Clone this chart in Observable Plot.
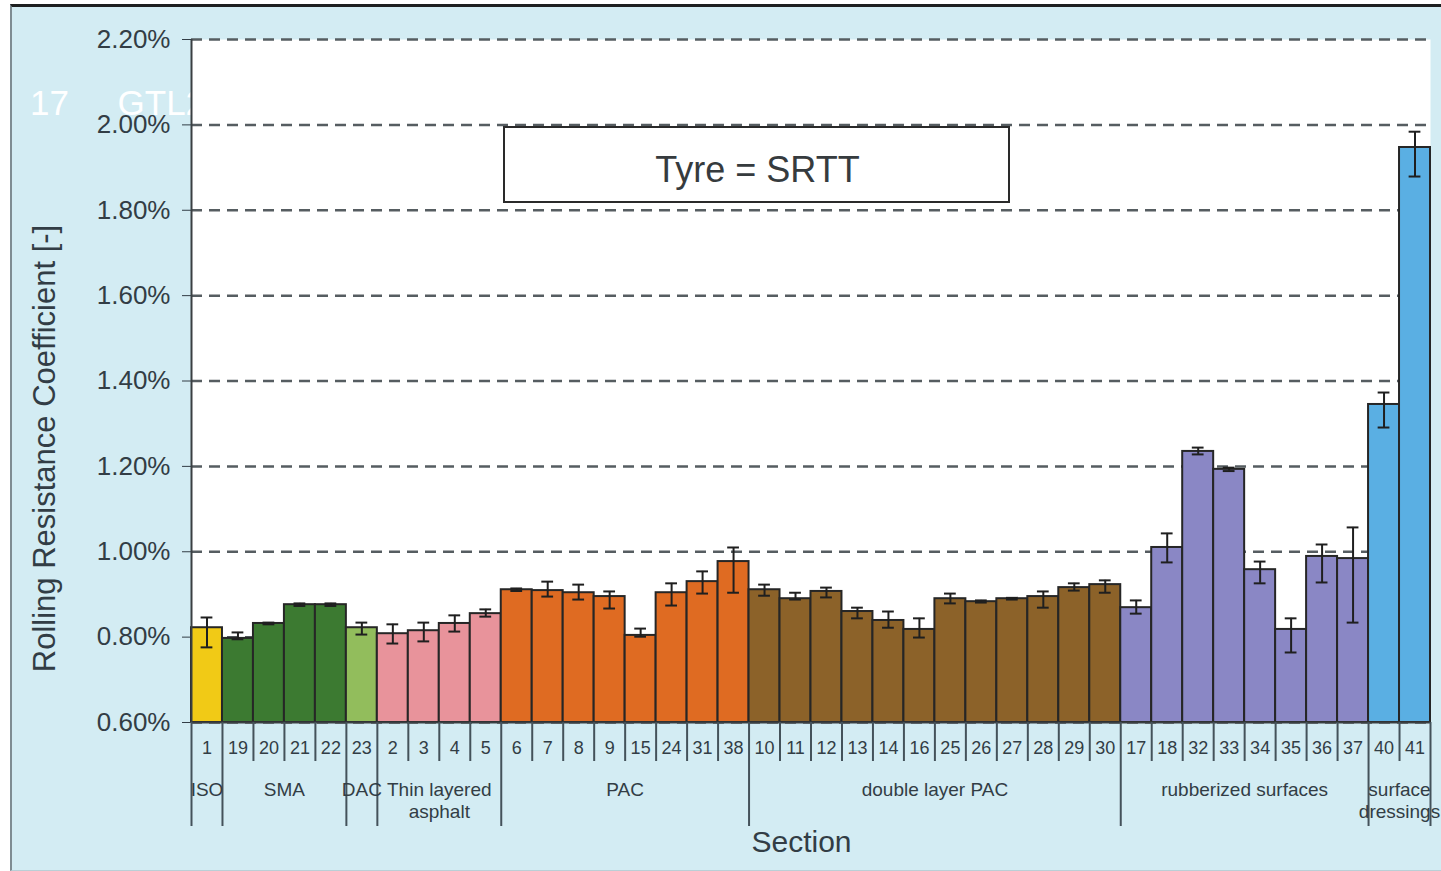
<!DOCTYPE html>
<html>
<head>
<meta charset="utf-8">
<script src="https://cdn.jsdelivr.net/npm/d3@7"></script>
<script src="https://cdn.jsdelivr.net/npm/@observablehq/plot@0.6"></script>
<style>
  html, body { margin: 0; padding: 0; background: #ffffff; }
  #page { position: relative; width: 1441px; height: 871px; overflow: hidden; font-family: "Liberation Sans", Arial, sans-serif; }
  #panel { position: absolute; left: 10px; top: 4px; width: 1431px; height: 863px;
           background: #d3ecf3; border-top: 3px solid #1d1f20; border-left: 2px solid #7f8c92; border-bottom: 1px solid #b9cfd6; }
  #running { position: absolute; left: 30px; top: 83px; color: #ffffff; font-size: 35px; white-space: pre; }
  #chart { position: absolute; left: 0; top: 0; }
</style>
</head>
<body>
<div id="page">
  <div id="panel"></div>
  <div id="running">17     GTL2</div>
  <div id="chart"></div>
</div>
<script>
// Rolling resistance coefficient (%) per test section, SRTT tyre
const sections = ["1","19","20","21","22","23","2","3","4","5",
  "6","7","8","9","15","24","31","38",
  "10","11","12","13","14","16","25","26","27","28","29","30",
  "17","18","32","33","34","35","36","37","40","41"];

const values = [0.822,0.797,0.832,0.876,0.876,0.822,0.808,0.815,0.832,0.855,
  0.911,0.909,0.904,0.895,0.804,0.904,0.930,0.977,
  0.911,0.890,0.907,0.860,0.839,0.818,0.890,0.883,0.890,0.895,0.916,0.923,
  0.869,1.010,1.235,1.193,0.958,0.818,0.989,0.984,1.345,1.947];

// lower and upper ends of the error bars
const errLow = [0.776,0.795,0.830,0.873,0.873,0.806,0.785,0.790,0.813,0.848,
  0.908,0.895,0.888,0.867,0.801,0.874,0.902,0.904,
  0.897,0.888,0.893,0.844,0.822,0.799,0.879,0.881,0.888,0.869,0.909,0.904,
  0.855,0.975,1.228,1.189,0.926,0.764,0.928,0.834,1.291,1.879];
const errHigh = [0.846,0.811,0.834,0.879,0.879,0.834,0.830,0.834,0.851,0.865,
  0.914,0.930,0.923,0.907,0.820,0.926,0.954,1.010,
  0.923,0.904,0.916,0.869,0.860,0.844,0.902,0.886,0.892,0.907,0.926,0.933,
  0.886,1.043,1.244,1.197,0.977,0.844,1.017,1.057,1.373,1.984];

// surface types, in order, with the number of sections in each
const groupNames = ["ISO","SMA","DAC","Thin layered\nasphalt","PAC","double layer PAC","rubberized surfaces","surface\ndressings"];
const groupSizes = [1,4,1,4,8,12,8,2];
const groupColors = ["#f1ca16","#3c7a31","#92bd5c","#e8939b","#df6b22","#8c6229","#8a87c5","#5aafe3"];

const yTicks = [0.6,0.8,1.0,1.2,1.4,1.6,1.8,2.0,2.2];
const yMin = 0.6, yMax = 2.2;

const annotation = "Tyre = SRTT";
const yTitle = "Rolling Resistance Coefficient [-]";
const xTitle = "Section";

// ---- derived tables ----
const groupStarts = [];
groupSizes.reduce((acc, n) => { groupStarts.push(acc); return acc + n; }, 0);
const nBars = sections.length;
const groupOf = [];
groupSizes.forEach((n, g) => { for (let k = 0; k < n; k++) groupOf.push(groupNames[g]); });

const bars = sections.map((s, i) => ({
  i, section: s, value: values[i], lo: errLow[i], hi: errHigh[i], group: groupOf[i]
}));
const groups = groupNames.map((name, g) => ({
  name, mid: groupStarts[g] + groupSizes[g] / 2
}));
const groupEdges = new Set([...groupStarts, nBars]);
const edges = d3.range(0, nBars + 1);
const shortEdges = edges.filter(e => !groupEdges.has(e));
const longEdges = edges.filter(e => groupEdges.has(e));

// ---- layout ----
const W = 1441, H = 871;
const mTop = 39, mBottom = 149, mLeft = 191, mRight = 11;
const yUnitsPerPx = (yMax - yMin) / (H - mTop - mBottom);
const xUnitsPerPx = nBars / (W - mLeft - mRight);
// convert page pixel positions into scale units (for annotations and titles)
const xAt = px => (px - mLeft) * xUnitsPerPx;
const yAt = py => yMin + (H - mBottom - py) * yUnitsPerPx;

const ink = "#323d45";
const capHalf = 0.19;

const chart = Plot.plot({
  width: W,
  height: H,
  marginTop: mTop,
  marginBottom: mBottom,
  marginLeft: mLeft,
  marginRight: mRight,
  style: { background: "transparent", fontFamily: "'Liberation Sans', Arial, sans-serif", overflow: "visible" },
  x: { domain: [0, nBars], axis: null },
  y: { domain: [yMin, yMax], axis: null },
  color: { domain: groupNames, range: groupColors },
  marks: [
    Plot.frame({ fill: "white", stroke: null }),
    // dashed horizontal gridlines
    Plot.ruleY(yTicks, { stroke: "#565d61", strokeWidth: 2.5, strokeDasharray: "11,7" }),
    // bars
    Plot.rect(bars, {
      x1: "i", x2: d => d.i + 1, y1: yMin, y2: "value",
      fill: "group", stroke: "#262626", strokeWidth: 2
    }),
    // error bars
    Plot.ruleX(bars, { x: d => d.i + 0.5, y1: "lo", y2: "hi", stroke: "#1f1f1f", strokeWidth: 2 }),
    Plot.ruleY(bars, { y: "hi", x1: d => d.i + 0.5 - capHalf, x2: d => d.i + 0.5 + capHalf, stroke: "#1f1f1f", strokeWidth: 2 }),
    Plot.ruleY(bars, { y: "lo", x1: d => d.i + 0.5 - capHalf, x2: d => d.i + 0.5 + capHalf, stroke: "#1f1f1f", strokeWidth: 2 }),
    // annotation box
    Plot.rect([annotation], { x1: xAt(504), x2: xAt(1009), y1: yAt(202), y2: yAt(127), fill: "white", stroke: "#2a2a2a", strokeWidth: 2 }),
    Plot.text([annotation], { x: xAt(757), y: yAt(170), fontSize: 36, fill: "#363b3e" }),
    // axes lines
    Plot.ruleX([0], { stroke: "#3a3f42", strokeWidth: 2 }),
    Plot.ruleY([yMin], { stroke: "#3a3f42", strokeWidth: 2 }),
    Plot.axisY(yTicks, {
      tickFormat: d => d.toFixed(2) + "%",
      tickSize: 9, tickPadding: 12, fontSize: 26, color: ink, label: null
    }),
    Plot.text([yTitle], { x: xAt(45), y: yAt(448), rotate: -90, fontSize: 31, fill: ink }),
    // section separators below the axis
    Plot.ruleX(shortEdges, { x: d => d, y1: yMin, y2: yAt(761), stroke: "#44525a", strokeWidth: 2 }),
    Plot.ruleX(longEdges, { x: d => d, y1: yMin, y2: yAt(826), stroke: "#44525a", strokeWidth: 2 }),
    // section numbers
    Plot.text(bars, { x: d => d.i + 0.5, y: yAt(748), text: "section", fontSize: 18, fill: ink }),
    // surface type labels
    Plot.text(groups, { x: "mid", y: yAt(779), text: "name", lineAnchor: "top", lineHeight: 1.2, fontSize: 19, fill: ink }),
    // x title
    Plot.text([xTitle], { x: xAt(801), y: yAt(842), fontSize: 30, fill: ink })
  ]
});

document.getElementById("chart").appendChild(chart);
</script>
</body>
</html>
